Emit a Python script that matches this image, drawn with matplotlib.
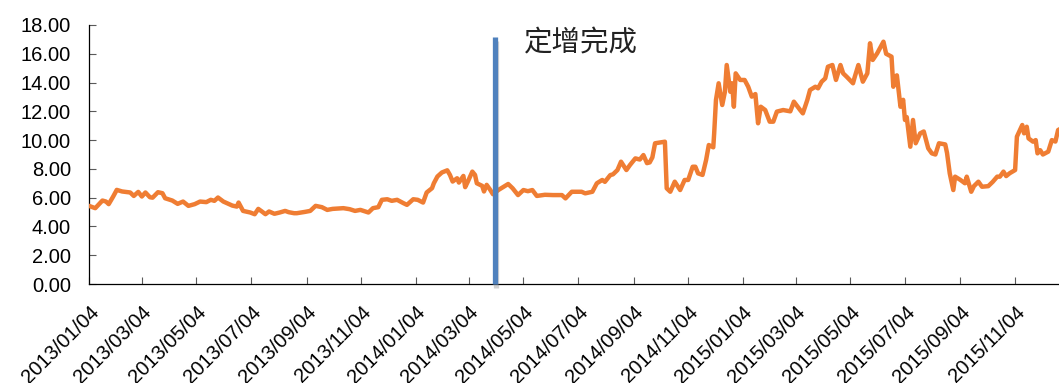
import matplotlib
matplotlib.use("Agg")
import matplotlib.pyplot as plt
import matplotlib.patheffects as pe
import pandas as pd

# Daily closing price (sampled), 2013-2015
dates = [
    "2013-01-04", "2013-01-11", "2013-01-19", "2013-01-23", "2013-01-26", "2013-01-31",
    "2013-02-04", "2013-02-10", "2013-02-19", "2013-02-23", "2013-02-28", "2013-03-04",
    "2013-03-08", "2013-03-13", "2013-03-16", "2013-03-22", "2013-03-27", "2013-03-30",
    "2013-04-07", "2013-04-13", "2013-04-19", "2013-04-25", "2013-05-02", "2013-05-08",
    "2013-05-15", "2013-05-20", "2013-05-24", "2013-05-28", "2013-06-03", "2013-06-13",
    "2013-06-18", "2013-06-20", "2013-06-25", "2013-07-03", "2013-07-08", "2013-07-12",
    "2013-07-16", "2013-07-20", "2013-07-24", "2013-07-30", "2013-08-05", "2013-08-11",
    "2013-08-15", "2013-08-21", "2013-08-24", "2013-09-02", "2013-09-08", "2013-09-14",
    "2013-09-21", "2013-09-27", "2013-10-03", "2013-10-15", "2013-10-22", "2013-10-28",
    "2013-11-03", "2013-11-12", "2013-11-17", "2013-11-23", "2013-11-27", "2013-12-03",
    "2013-12-08", "2013-12-14", "2013-12-21", "2013-12-25", "2014-01-01", "2014-01-06",
    "2014-01-12", "2014-01-16", "2014-01-22", "2014-01-24", "2014-01-28", "2014-02-02",
    "2014-02-08", "2014-02-11", "2014-02-14", "2014-02-19", "2014-02-21", "2014-02-26",
    "2014-02-28", "2014-03-03", "2014-03-08", "2014-03-11", "2014-03-13", "2014-03-19",
    "2014-03-21", "2014-03-24", "2014-03-28", "2014-03-31", "2014-04-06", "2014-04-17",
    "2014-04-22", "2014-04-28", "2014-05-04", "2014-05-09", "2014-05-14", "2014-05-19",
    "2014-05-28", "2014-06-06", "2014-06-16", "2014-06-20", "2014-06-27", "2014-07-08",
    "2014-07-12", "2014-07-20", "2014-07-25", "2014-07-31", "2014-08-03", "2014-08-09",
    "2014-08-12", "2014-08-17", "2014-08-21", "2014-08-27", "2014-08-31", "2014-09-06",
    "2014-09-11", "2014-09-15", "2014-09-19", "2014-09-22", "2014-09-25", "2014-09-28",
    "2014-10-09", "2014-10-11", "2014-10-15", "2014-10-20", "2014-10-26", "2014-10-31",
    "2014-11-04", "2014-11-09", "2014-11-12", "2014-11-15", "2014-11-20", "2014-11-24",
    "2014-11-27", "2014-12-02", "2014-12-03", "2014-12-05", "2014-12-08", "2014-12-12",
    "2014-12-15", "2014-12-17", "2014-12-21", "2014-12-23", "2014-12-25", "2014-12-27",
    "2015-01-01", "2015-01-06", "2015-01-10", "2015-01-14", "2015-01-18", "2015-01-21",
    "2015-01-24", "2015-01-29", "2015-02-03", "2015-02-07", "2015-02-11", "2015-02-18",
    "2015-02-26", "2015-03-02", "2015-03-09", "2015-03-12", "2015-03-17", "2015-03-20",
    "2015-03-26", "2015-03-29", "2015-04-02", "2015-04-06", "2015-04-09", "2015-04-14",
    "2015-04-18", "2015-04-23", "2015-04-26", "2015-04-30", "2015-05-07", "2015-05-09",
    "2015-05-13", "2015-05-18", "2015-05-23", "2015-05-26", "2015-05-29", "2015-06-03",
    "2015-06-10", "2015-06-13", "2015-06-19", "2015-06-21", "2015-06-23", "2015-06-25",
    "2015-06-29", "2015-07-02", "2015-07-04", "2015-07-06", "2015-07-10", "2015-07-13",
    "2015-07-16", "2015-07-21", "2015-07-25", "2015-07-30", "2015-08-03", "2015-08-07",
    "2015-08-11", "2015-08-18", "2015-08-20", "2015-08-23", "2015-08-27", "2015-08-29",
    "2015-09-04", "2015-09-09", "2015-09-11", "2015-09-16", "2015-09-19", "2015-09-24",
    "2015-09-28", "2015-10-05", "2015-10-10", "2015-10-15", "2015-10-18", "2015-10-22",
    "2015-10-25", "2015-10-29", "2015-11-04", "2015-11-06", "2015-11-12", "2015-11-14",
    "2015-11-17", "2015-11-19", "2015-11-24", "2015-11-27", "2015-11-29", "2015-12-02",
    "2015-12-05", "2015-12-11", "2015-12-15", "2015-12-19", "2015-12-22", "2015-12-25",
]
prices = [
    5.43, 5.27, 5.80, 5.73, 5.55, 6.08,
    6.54, 6.43, 6.36, 6.12, 6.40, 6.08,
    6.36, 6.03, 6.00, 6.38, 6.31, 5.96,
    5.80, 5.57, 5.73, 5.43, 5.55, 5.73,
    5.69, 5.85, 5.78, 6.01, 5.73, 5.45,
    5.38, 5.66, 5.08, 4.97, 4.85, 5.22,
    5.04, 4.85, 5.04, 4.88, 4.97, 5.08,
    4.99, 4.92, 4.92, 5.01, 5.08, 5.43,
    5.34, 5.15, 5.22, 5.27, 5.20, 5.08,
    5.15, 4.97, 5.27, 5.34, 5.85, 5.89,
    5.78, 5.85, 5.62, 5.50, 5.89, 5.85,
    5.66, 6.36, 6.66, 7.00, 7.47, 7.75,
    7.90, 7.58, 7.12, 7.35, 7.05, 7.51,
    6.73, 7.12, 7.81, 7.58, 7.00, 6.82,
    6.43, 6.89, 6.54, 6.24, 6.53, 6.95,
    6.65, 6.18, 6.53, 6.45, 6.53, 6.12,
    6.20, 6.18, 6.18, 5.95, 6.41, 6.41,
    6.30, 6.41, 7.00, 7.23, 7.10, 7.57,
    7.62, 7.92, 8.50, 7.92, 8.27, 8.73,
    8.65, 8.96, 8.40, 8.45, 8.80, 9.78,
    9.89, 6.65, 6.41, 7.11, 6.53, 7.23,
    7.23, 8.15, 8.15, 7.69, 7.58, 8.62,
    9.66, 9.50, 10.47, 12.79, 13.95, 12.44,
    13.36, 15.22, 13.36, 13.95, 12.32, 14.64,
    14.18, 14.18, 13.71, 13.02, 13.20, 11.17,
    12.32, 12.09, 11.28, 11.28, 11.98, 12.09,
    12.00, 12.67, 12.09, 11.86, 12.79, 13.48,
    13.71, 13.60, 14.06, 14.29, 15.10, 15.22,
    14.18, 15.22, 14.64, 14.40, 13.95, 14.40,
    15.22, 14.06, 14.64, 16.73, 15.57, 16.03,
    16.84, 16.00, 15.80, 13.71, 14.41, 14.50,
    12.32, 12.80, 11.40, 11.60, 9.54, 11.40,
    9.78, 10.47, 10.60, 9.43, 9.08, 9.00,
    9.78, 9.70, 9.10, 7.69, 6.53, 7.46,
    7.23, 7.00, 7.46, 6.41, 6.80, 7.11,
    6.76, 6.80, 7.10, 7.46, 7.46, 7.81,
    7.50, 7.70, 7.92, 10.24, 11.05, 10.47,
    10.93, 10.12, 9.89, 10.00, 9.08, 9.30,
    9.00, 9.20, 10.00, 9.90, 10.70, 10.80,
]

tick_labels = [
    "2013/01/04", "2013/03/04", "2013/05/04", "2013/07/04", "2013/09/04", "2013/11/04",
    "2014/01/04", "2014/03/04", "2014/05/04", "2014/07/04", "2014/09/04", "2014/11/04",
    "2015/01/04", "2015/03/04", "2015/05/04", "2015/07/04", "2015/09/04", "2015/11/04",
]
y_ticks = [0, 2, 4, 6, 8, 10, 12, 14, 16, 18]

event_date = "2014-04-02"
event_top = 17.2
event_label = "定增完成"

plt.rcParams["font.family"] = ["Liberation Sans", "DejaVu Sans"]

W, H = 1059, 383
fig = plt.figure(figsize=(W / 100, H / 100), dpi=100)
ax = fig.add_axes([89 / W, 99 / H, 1 - 89 / W, 259 / H])

x = pd.to_datetime(dates)
ax.plot(x, prices, color="#EF7D33", lw=3.2, solid_joinstyle="round",
        solid_capstyle="round", zorder=3)

ev = pd.Timestamp(event_date)
ax.plot([ev, ev], [0, event_top], color="#4F81BD", lw=3.8, solid_capstyle="butt",
        clip_on=False, zorder=4,
        path_effects=[pe.SimpleLineShadow(offset=(1.2, -3), shadow_color="#808080", alpha=0.35),
                      pe.Normal()])
ax.text(pd.Timestamp("2014-05-05"), 16.75, event_label, fontsize=20.5,
        family=["Noto Sans CJK SC", "DejaVu Sans"], fontweight="light",
        color="#222222", ha="left", va="center")

ax.set_xlim(pd.Timestamp("2013-01-04"), pd.Timestamp("2015-12-23"))
ax.set_ylim(0, 18)

tick_pos = pd.to_datetime(tick_labels, format="%Y/%m/%d")
ax.set_xticks(tick_pos)
ax.set_xticklabels(tick_labels, rotation=45, ha="right", rotation_mode="anchor",
                   fontsize=14.5)
ax.set_yticks(y_ticks)
ax.set_yticklabels([f"{v:.2f}" for v in y_ticks], fontsize=14.5)

for side in ("top", "right"):
    ax.spines[side].set_visible(False)
for side in ("left", "bottom"):
    ax.spines[side].set_color("#000000")
    ax.spines[side].set_linewidth(0.9)

ax.tick_params(axis="both", direction="in", length=5, width=0.8, color="#595959")
ax.tick_params(axis="y", pad=13)
ax.tick_params(axis="x", pad=13)

fig.savefig("out.png", dpi=100)
